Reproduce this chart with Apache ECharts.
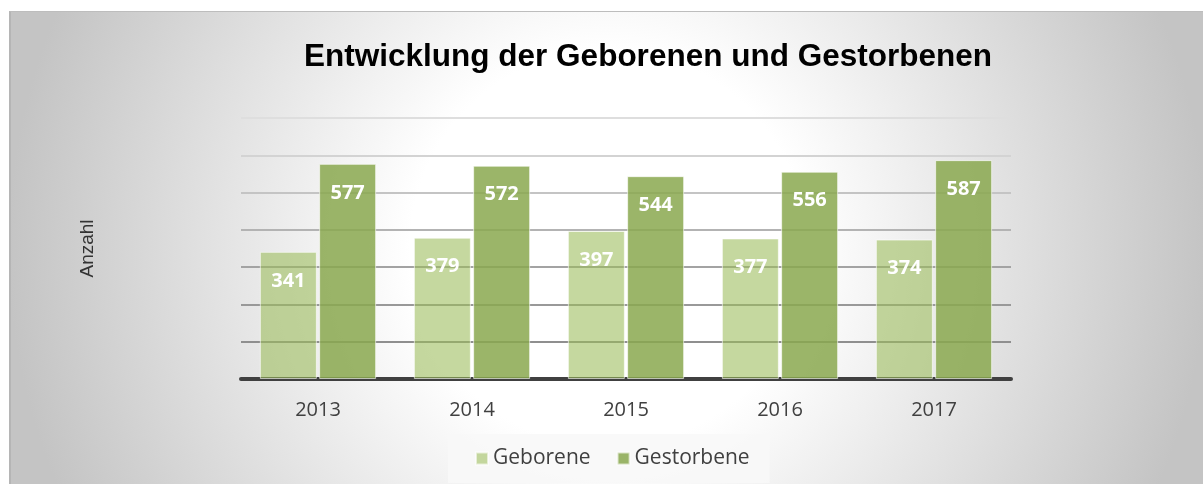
<!DOCTYPE html>
<html>
<head>
<meta charset="utf-8">
<script src="https://cdn.jsdelivr.net/npm/echarts@6/dist/echarts.min.js"></script>
<style>
  html, body { margin: 0; padding: 0; background: #fff; }
  #bg {
    position: absolute; left: 9px; top: 11px; right: 0; bottom: 0;
    border-top: 1px solid #bdbdbd; border-left: 2px solid #b5b5b5;
    background: radial-gradient(circle 600px at 597px 236px, #ffffff 33%, #c4c4c4 100%);
  }
  #chart { position: absolute; left: 0; top: 0; width: 1203px; height: 484px; }
</style>
</head>
<body>
<div id="bg"></div>
<div id="chart"></div>
<script>
const years = ["2013", "2014", "2015", "2016", "2017"];
const geborene = [341, 379, 397, 377, 374];
const gestorbene = [577, 572, 544, 556, 587];

const chart = echarts.init(document.getElementById("chart"));

const barLabel = {
  show: true,
  position: "insideTop",
  distance: 19,
  color: "#fff",
  fontFamily: "Open Sans",
  fontWeight: "bold",
  fontSize: 20,
};

chart.setOption({
  animation: false,
  title: {
    text: "Entwicklung der Geborenen und Gestorbenen",
    left: 643,
    textAlign: "center",
    top: 36,
    textStyle: {
      fontFamily: "Liberation Sans",
      fontWeight: "bold",
      fontSize: 31.5,
      color: "#000",
    },
  },
  legend: {
    data: ["Geborene", "Gestorbene"],
    left: 448,
    top: 434,
    padding: [14, 20, 14, 27],
    backgroundColor: "rgba(248,248,248,0.85)",
    itemWidth: 12,
    itemHeight: 12,
    itemGap: 26,
    icon: "rect",
    textStyle: { fontFamily: "Open Sans", fontSize: 21, color: "#404040" },
  },
  grid: { left: 241, right: 192, top: 118, bottom: 105 },
  xAxis: {
    type: "category",
    data: years,
    axisLine: { lineStyle: { color: "#404040", width: 4 } },
    axisTick: { show: false },
    axisLabel: {
      margin: 21,
      fontFamily: "Open Sans",
      fontSize: 20,
      color: "#404040",
    },
  },
  yAxis: {
    type: "value",
    min: 0,
    max: 700,
    interval: 100,
    name: "Anzahl",
    nameLocation: "middle",
    nameRotate: 90,
    nameGap: 144,
    nameTextStyle: { fontFamily: "Liberation Sans", fontSize: 19, color: "#333" },
    axisLabel: { show: false },
    axisLine: { show: false },
    axisTick: { show: false },
    splitLine: {
      lineStyle: {
        width: 2,
        color: ["#8f8f8f", "#8f8f8f", "#999", "#a3a3a3", "#b3b3b3", "#c4c4c4", "#d3d3d3", "#dedede"],
      },
    },
  },
  series: [
    {
      name: "Geborene",
      type: "bar",
      data: geborene,
      barWidth: 57,
      barGap: "4%",
      itemStyle: {
        color: "rgba(155,187,89,0.58)",
        borderColor: "rgba(255,255,255,0.6)",
        borderWidth: 1,
      },
      label: barLabel,
    },
    {
      name: "Gestorbene",
      type: "bar",
      data: gestorbene,
      barWidth: 57,
      barGap: "4%",
      itemStyle: {
        color: "rgba(138,168,79,0.85)",
        borderColor: "rgba(255,255,255,0.6)",
        borderWidth: 1,
      },
      label: barLabel,
    },
  ],
});
</script>
</body>
</html>
